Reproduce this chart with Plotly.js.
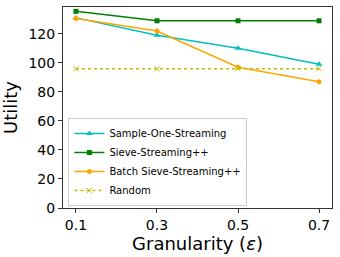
<!DOCTYPE html>
<html><head><meta charset="utf-8">
<script src="https://cdn.plot.ly/plotly-3.0.1.min.js"></script>
<style>html,body{margin:0;padding:0;background:#fff}#c{width:340px;height:257px}</style>
</head><body><div id="c"></div>
<script>
const granularity = [0.1, 0.3, 0.5, 0.7];
const sampleOne = [131, 119, 110, 99];
const sievePP = [135.5, 129, 129, 129];
const batchSieve = [130.5, 122, 97, 87];
const randomVals = [96, 96, 96, 96];
const xTicks = [0.1, 0.3, 0.5, 0.7];
const xTickLabels = ['0.1', '0.3', '0.5', '0.7'];
const yTicks = [0, 20, 40, 60, 80, 100, 120];

const traces = [
  {x: granularity, y: sampleOne, name: 'Sample-One-Streaming', mode: 'lines+markers',
   line: {color: '#00bfbf', width: 1.5}, marker: {symbol: 'triangle-up', size: 6, color: '#00bfbf'}},
  {x: granularity, y: sievePP, name: 'Sieve-Streaming++', mode: 'lines+markers',
   line: {color: '#008000', width: 1.5}, marker: {symbol: 'square', size: 5, color: '#008000'}},
  {x: granularity, y: batchSieve, name: 'Batch Sieve-Streaming++', mode: 'lines+markers',
   line: {color: '#ffa500', width: 1.5}, marker: {symbol: 'circle', size: 5, color: '#ffa500'}},
  {x: granularity, y: randomVals, name: 'Random', mode: 'lines+markers',
   line: {color: '#bfbf00', width: 1.5, dash: 'dot'}, marker: {symbol: 'x-thin-open', size: 5, color: '#bfbf00', line: {color: '#bfbf00', width: 1}}}
];

const layout = {
  width: 340, height: 257,
  margin: {l: 63, r: 8, t: 7, b: 49},
  paper_bgcolor: '#fff', plot_bgcolor: '#fff',
  font: {family: 'DejaVu Sans', color: '#000'},
  showlegend: true,
  legend: {x: 0.02, y: 0.01, xanchor: 'left', yanchor: 'bottom',
    bgcolor: 'rgba(255,255,255,0.8)', bordercolor: '#cccccc', borderwidth: 1,
    font: {size: 10, family: 'DejaVu Sans'}, itemwidth: 30, tracegroupgap: 0},
  xaxis: {range: [0.068, 0.732], tickvals: xTicks, ticktext: xTickLabels,
    showgrid: false, zeroline: false, showline: true, mirror: true, linecolor: '#333', linewidth: 1,
    ticks: 'outside', ticklen: 4, tickcolor: '#333', tickfont: {size: 14},
    title: {text: 'Granularity (<i>ε</i>)', font: {size: 18}, standoff: 2}},
  yaxis: {range: [0, 138.5], tickvals: yTicks,
    showgrid: false, zeroline: false, showline: true, mirror: true, linecolor: '#333', linewidth: 1,
    ticks: 'outside', ticklen: 4, tickcolor: '#333', tickfont: {size: 14},
    title: {text: 'Utility', font: {size: 18}, standoff: 6}}
};
Plotly.newPlot('c', traces, layout, {displayModeBar: false, staticPlot: true});
</script></body></html>
